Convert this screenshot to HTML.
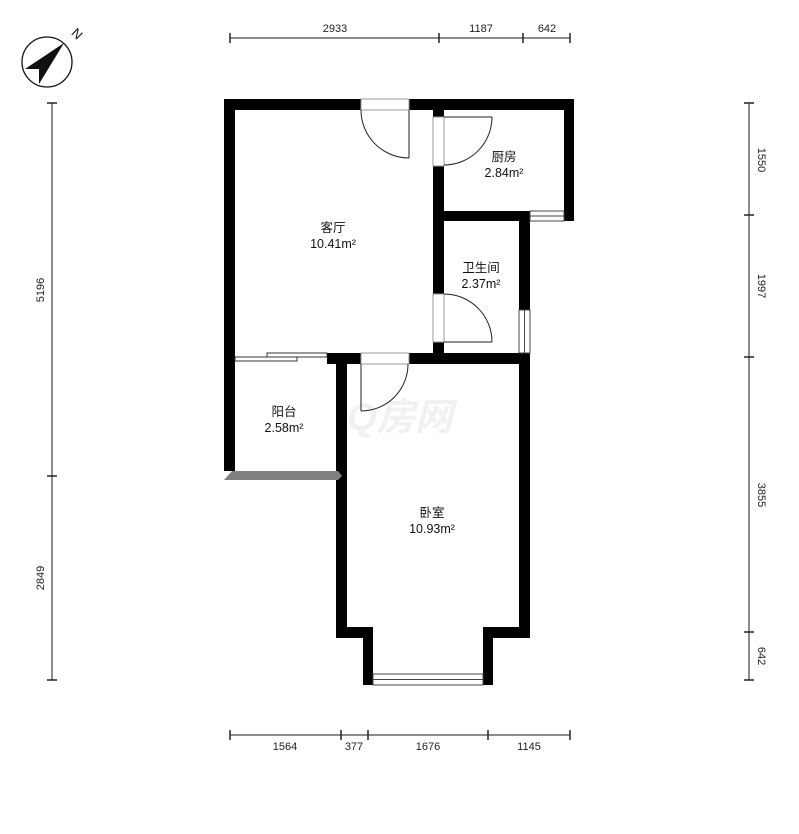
<!DOCTYPE html>
<html><head><meta charset="utf-8"><style>
html,body{margin:0;padding:0;background:#fff;}
svg{display:block;}
text{font-family:"Liberation Sans","Noto Sans CJK SC",sans-serif;}
</style></head><body>
<svg width="799" height="834" viewBox="0 0 799 834" xmlns="http://www.w3.org/2000/svg">
<circle cx="47" cy="62" r="25" fill="none" stroke="#111" stroke-width="1.3"/>
<polygon points="64,43 25,69 39,69 39,84" fill="#111"/>
<text x="74" y="37" font-size="13" transform="rotate(45 74 37)" text-anchor="middle" fill="#111">N</text>

<g stroke="#666" stroke-width="1.5" fill="none">
<line x1="230" y1="38" x2="570" y2="38"/>
<line x1="230" y1="735" x2="570" y2="735"/>
<line x1="52" y1="103" x2="52" y2="680"/>
<line x1="749" y1="103" x2="749" y2="680"/>
</g>
<g stroke="#222" stroke-width="1.5">
<line x1="230" y1="33" x2="230" y2="43"/><line x1="439" y1="33" x2="439" y2="43"/><line x1="523" y1="33" x2="523" y2="43"/><line x1="570" y1="33" x2="570" y2="43"/>
<line x1="230" y1="730" x2="230" y2="740"/><line x1="341" y1="730" x2="341" y2="740"/><line x1="368" y1="730" x2="368" y2="740"/><line x1="488" y1="730" x2="488" y2="740"/><line x1="570" y1="730" x2="570" y2="740"/>
<line x1="47" y1="103" x2="57" y2="103"/><line x1="47" y1="476" x2="57" y2="476"/><line x1="47" y1="680" x2="57" y2="680"/>
<line x1="744" y1="103" x2="754" y2="103"/><line x1="744" y1="215" x2="754" y2="215"/><line x1="744" y1="357" x2="754" y2="357"/><line x1="744" y1="632" x2="754" y2="632"/><line x1="744" y1="680" x2="754" y2="680"/>
</g>
<g font-size="11" fill="#222" text-anchor="middle">
<text x="335" y="32">2933</text><text x="481" y="32">1187</text><text x="547" y="32">642</text>
<text x="285" y="750">1564</text><text x="354" y="750">377</text><text x="428" y="750">1676</text><text x="529" y="750">1145</text>
<text transform="translate(44 290) rotate(-90)">5196</text>
<text transform="translate(44 578) rotate(-90)">2849</text>
<text transform="translate(758 160) rotate(90)">1550</text>
<text transform="translate(758 286) rotate(90)">1997</text>
<text transform="translate(758 495) rotate(90)">3855</text>
<text transform="translate(758 656) rotate(90)">642</text>
</g>

<text x="400" y="430" font-size="38" font-style="italic" font-weight="bold" fill="#f1f1f1" text-anchor="middle">Q房网</text>

<g fill="#000">
<rect x="224" y="99" width="137" height="11"/>
<rect x="409" y="99" width="165" height="11"/>
<rect x="224" y="99" width="11" height="372"/>
<rect x="564" y="99" width="10" height="122"/>
<rect x="433" y="99" width="11" height="18"/>
<rect x="433" y="166" width="11" height="128"/>
<rect x="433" y="342" width="11" height="21"/>
<rect x="444" y="211" width="86" height="10"/>
<rect x="519" y="211" width="11" height="99"/>
<rect x="327" y="353" width="34" height="11"/>
<rect x="409" y="353" width="121" height="11"/>
<rect x="336" y="353" width="11" height="285"/>
<rect x="519" y="353" width="11" height="285"/>
<rect x="336" y="627" width="37" height="11"/>
<rect x="483" y="627" width="47" height="11"/>
<rect x="363" y="627" width="10" height="58"/>
<rect x="483" y="627" width="10" height="58"/>
</g>
<polygon points="224,480 232,471 338,471 342,476 338,480" fill="#808080"/>

<g fill="#fff" stroke="#444" stroke-width="1">
<rect x="530" y="211" width="34" height="10"/>
<rect x="519" y="310" width="11" height="43"/>
<rect x="373" y="674" width="110" height="11"/>
</g>
<g stroke="#444" stroke-width="1">
<line x1="530" y1="216" x2="564" y2="216"/>
<line x1="524.5" y1="310" x2="524.5" y2="353"/>
<line x1="373" y1="679.5" x2="483" y2="679.5"/>
</g>

<g fill="#fff" stroke="#333" stroke-width="1">
<rect x="235" y="357" width="62" height="4"/>
<rect x="267" y="353" width="60" height="4"/>
</g>

<g fill="none" stroke="#222" stroke-width="1">
<rect x="361" y="99" width="48" height="11" stroke="#999"/>
<line x1="409" y1="110" x2="409" y2="158"/>
<path d="M361,110 A48,48 0 0 0 409,158"/>
<rect x="433" y="117" width="11" height="49" stroke="#999"/>
<line x1="444" y1="117" x2="492" y2="117"/>
<path d="M492,117 A48,48 0 0 1 444,165"/>
<rect x="433" y="294" width="11" height="48" stroke="#999"/>
<line x1="444" y1="342" x2="492" y2="342"/>
<path d="M444,294 A48,48 0 0 1 492,342"/>
<rect x="361" y="353" width="48" height="11" stroke="#999"/>
<line x1="361" y1="364" x2="361" y2="411"/>
<path d="M361,411 A47,47 0 0 0 408,364"/>
</g>

<g font-size="12.5" fill="#111" text-anchor="middle">
<text x="333" y="232">客厅</text><text x="333" y="248">10.41m²</text>
<text x="504" y="161">厨房</text><text x="504" y="177">2.84m²</text>
<text x="481" y="272">卫生间</text><text x="481" y="288">2.37m²</text>
<text x="284" y="416">阳台</text><text x="284" y="432">2.58m²</text>
<text x="432" y="517">卧室</text><text x="432" y="533">10.93m²</text>
</g>
</svg>
</body></html>
